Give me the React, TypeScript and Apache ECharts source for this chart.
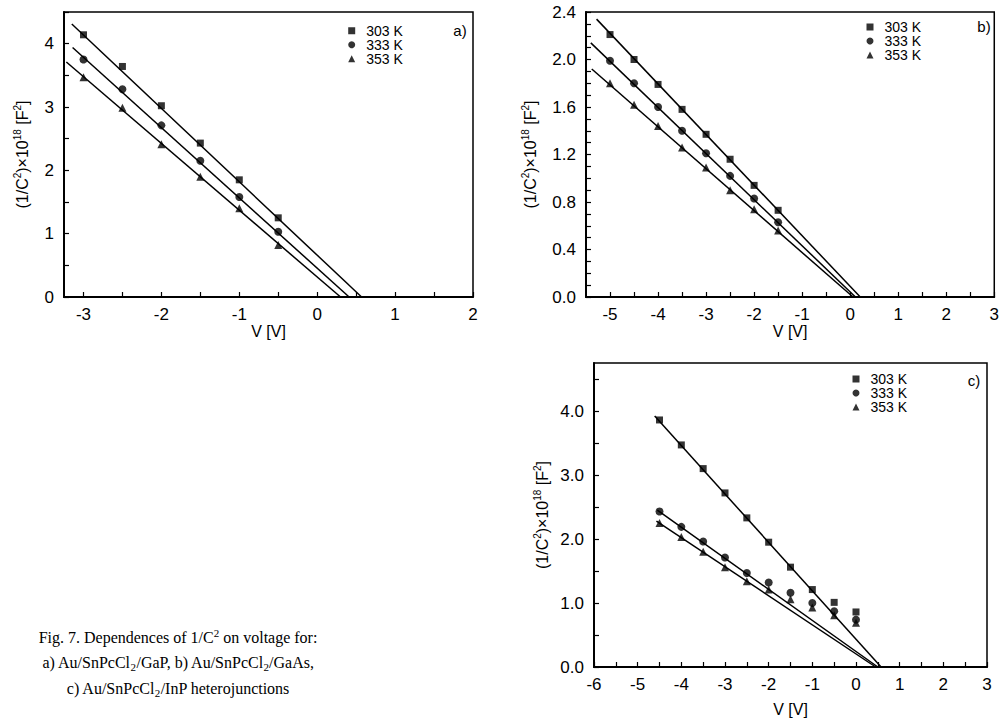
import React, { useEffect, useRef } from "react";
import * as echarts from "echarts";

const FONT = '"Liberation Sans", Arial, Helvetica, sans-serif';
const SERIF = '"Liberation Serif", "Times New Roman", serif';

const temps = ["303 K", "333 K", "353 K"];
const symbols = ["rect", "circle", "triangle"];
const symbolSizes = [7, 8, 8];

// ---- Panel a) Au/SnPcCl2/GaP
const aV = [-3, -2.5, -2, -1.5, -1, -0.5];
const a303 = [4.14, 3.64, 3.02, 2.43, 1.85, 1.25];
const a333 = [3.75, 3.28, 2.71, 2.15, 1.58, 1.03];
const a353 = [3.47, 2.99, 2.41, 1.9, 1.4, 0.82];
const aFit303 = [[-3.15, 4.31], [0.57, 0]];
const aFit333 = [[-3.14, 3.94], [0.41, 0]];
const aFit353 = [[-3.22, 3.71], [0.3, 0]];
const aXLabels = [-3, -2, -1, 0, 1, 2];
const aXTicks = [-3, -2.5, -2, -1.5, -1, -0.5, 0, 0.5, 1, 1.5, 2];
const aYLabels = [0, 1, 2, 3, 4];
const aYTicks = [0, 0.5, 1, 1.5, 2, 2.5, 3, 3.5, 4, 4.5];

// ---- Panel b) Au/SnPcCl2/GaAs
const bV = [-5, -4.5, -4, -3.5, -3, -2.5, -2, -1.5];
const b303 = [2.21, 2.0, 1.79, 1.58, 1.37, 1.16, 0.94, 0.73];
const b333 = [1.99, 1.8, 1.6, 1.4, 1.21, 1.02, 0.83, 0.63];
const b353 = [1.8, 1.62, 1.44, 1.26, 1.09, 0.9, 0.74, 0.56];
const bFit303 = [[-5.28, 2.34], [0.21, 0]];
const bFit333 = [[-5.4, 2.14], [0.11, 0]];
const bFit353 = [[-5.38, 1.92], [0.06, 0]];
const bXLabels = [-5, -4, -3, -2, -1, 0, 1, 2, 3];
const bXTicks = [-5, -4.5, -4, -3.5, -3, -2.5, -2, -1.5, -1, -0.5, 0, 0.5, 1, 1.5, 2, 2.5, 3];
const bYLabels = [0, 0.4, 0.8, 1.2, 1.6, 2.0, 2.4];
const bYTicks = [0, 0.1, 0.2, 0.3, 0.4, 0.5, 0.6, 0.7, 0.8, 0.9, 1.0, 1.1, 1.2, 1.3, 1.4, 1.5, 1.6, 1.7, 1.8, 1.9, 2.0, 2.1, 2.2, 2.3, 2.4];

// ---- Panel c) Au/SnPcCl2/InP
const cV = [-4.5, -4, -3.5, -3, -2.5, -2, -1.5, -1, -0.5, 0];
const c303 = [3.86, 3.47, 3.1, 2.72, 2.33, 1.95, 1.56, 1.21, 1.01, 0.86];
const c333 = [2.43, 2.19, 1.96, 1.71, 1.47, 1.32, 1.16, 1.0, 0.87, 0.74];
const c353 = [2.25, 2.03, 1.8, 1.56, 1.34, 1.21, 1.06, 0.93, 0.81, 0.69];
const cFit303 = [[-4.61, 3.92], [0.575, 0]];
const cFit333 = [[-4.55, 2.45], [0.5, 0]];
const cFit353 = [[-4.57, 2.28], [0.45, 0]];
const cXLabels = [-6, -5, -4, -3, -2, -1, 0, 1, 2, 3];
const cXTicks = [-6, -5.5, -5, -4.5, -4, -3.5, -3, -2.5, -2, -1.5, -1, -0.5, 0, 0.5, 1, 1.5, 2, 2.5, 3];
const cYLabels = [0, 1, 2, 3, 4];
const cYTicks = [0, 0.5, 1, 1.5, 2, 2.5, 3, 3.5, 4, 4.5];

const panelLetters = ["a)", "b)", "c)"];

const captionLines = [
  "Fig. 7. Dependences of 1/C{sup|2} on voltage for:",
  "a) Au/SnPcCl{sub|2}/GaP, b) Au/SnPcCl{sub|2}/GaAs,",
  "c) Au/SnPcCl{sub|2}/InP heterojunctions",
];

const Y_NAME = "(1/C{s|2})×10{s|18} [F{s|2}]";

function xAxis(gridIndex: number, min: number, max: number, labels: number[], ticks: number[], nameGap: number, fmt: (v: number) => string) {
  return {
    type: "value",
    gridIndex,
    min,
    max,
    name: "V [V]",
    nameLocation: "middle",
    nameGap,
    nameTextStyle: { fontSize: 16, color: "#000", fontFamily: FONT },
    axisLine: { show: true, onZero: false, lineStyle: { color: "#000", width: 2 } },
    axisTick: { show: true, inside: true, length: 5, customValues: ticks, lineStyle: { color: "#000", width: 1.2 } },
    axisLabel: { show: true, customValues: labels, fontSize: 17, color: "#000", fontFamily: FONT, margin: 9, formatter: fmt },
    splitLine: { show: false },
  };
}

function yAxis(gridIndex: number, min: number, max: number, labels: number[], ticks: number[], nameGap: number, fmt: (v: number) => string) {
  return {
    type: "value",
    gridIndex,
    min,
    max,
    name: Y_NAME,
    nameLocation: "middle",
    nameGap,
    nameRotate: 90,
    nameTextStyle: {
      fontSize: 16,
      color: "#000",
      fontFamily: FONT,
      lineHeight: 20,
      rich: {
        s: { fontSize: 10, color: "#000", fontFamily: FONT, verticalAlign: "top", lineHeight: 10 },
      },
    },
    axisLine: { show: true, onZero: false, lineStyle: { color: "#000", width: 2 } },
    axisTick: { show: true, inside: true, length: 5, customValues: ticks, lineStyle: { color: "#000", width: 1.2 } },
    axisLabel: { show: true, customValues: labels, fontSize: 17, color: "#000", fontFamily: FONT, margin: 10, formatter: fmt },
    splitLine: { show: false },
  };
}

const intFmt = (v: number) => String(Math.round(v));
const oneDec = (v: number) => v.toFixed(1);

export default function App() {
  const ref = useRef<HTMLDivElement>(null);
  useEffect(() => {
    if (!ref.current) return;
    const chart = echarts.init(ref.current, null, { renderer: "svg" });

    const panels = [
      { V: aV, ys: [a303, a333, a353], fits: [aFit303, aFit333, aFit353] },
      { V: bV, ys: [b303, b333, b353], fits: [bFit303, bFit333, bFit353] },
      { V: cV, ys: [c303, c333, c353], fits: [cFit303, cFit333, cFit353] },
    ];

    const series: any[] = [];
    panels.forEach((p, i) => {
      p.ys.forEach((vals, j) => {
        series.push({
          type: "line",
          name: `${temps[j]} fit ${panelLetters[i]}`,
          xAxisIndex: i,
          yAxisIndex: i,
          data: p.fits[j],
          symbol: "none",
          silent: true,
          lineStyle: { color: "#000", width: 1.5 },
          z: 2,
        });
        series.push({
          type: "scatter",
          name: temps[j],
          xAxisIndex: i,
          yAxisIndex: i,
          symbol: symbols[j],
          symbolSize: symbolSizes[j],
          itemStyle: { color: "#000" },
          data: p.V.map((v, k) => [v, vals[k]]),
          z: 3,
        });
      });
    });

    const legendBase = {
      data: temps,
      orient: "vertical",
      itemWidth: 7,
      itemHeight: 7,
      itemGap: 0,
      padding: 0,
      selectedMode: false,
    };

    const option: any = {
      animation: false,
      backgroundColor: "#fff",
      grid: [
        { left: 64, top: 12, width: 409, height: 285, show: true, borderColor: "#000", borderWidth: 1.5, backgroundColor: "transparent" },
        { left: 586, top: 12, width: 411, height: 285, show: true, borderColor: "#000", borderWidth: 1.5, backgroundColor: "transparent" },
        { left: 594, top: 363, width: 393, height: 304, show: true, borderColor: "#000", borderWidth: 1.5, backgroundColor: "transparent" },
      ],
      xAxis: [
        xAxis(0, -3.25, 2, aXLabels, aXTicks, 21, intFmt),
        xAxis(1, -5.5, 3, bXLabels, bXTicks, 21, intFmt),
        xAxis(2, -6, 3, cXLabels, cXTicks, 34, intFmt),
      ],
      yAxis: [
        yAxis(0, 0, 4.5, aYLabels, aYTicks, 32, intFmt),
        yAxis(1, 0, 2.4, bYLabels, bYTicks, 46, oneDec),
        yAxis(2, 0, 4.75, cYLabels, cYTicks, 42, oneDec),
      ],
      legend: [
        { ...legendBase, left: 348.2, top: 23.75, textStyle: { fontSize: 14, lineHeight: 12.5, color: "#000", fontFamily: FONT, padding: [0, 0, 0, 6] } },
        { ...legendBase, left: 866.5, top: 20, textStyle: { fontSize: 14, lineHeight: 13.3, color: "#000", fontFamily: FONT, padding: [0, 0, 0, 6] } },
        { ...legendBase, left: 852.5, top: 372, textStyle: { fontSize: 14, lineHeight: 12.9, color: "#000", fontFamily: FONT, padding: [0, 0, 0, 6] } },
      ],
      graphic: [
        { type: "text", x: 460, y: 30, style: { text: panelLetters[0], fontSize: 15, fontFamily: FONT, fill: "#000", align: "center", verticalAlign: "middle" } },
        { type: "text", x: 984, y: 26, style: { text: panelLetters[1], fontSize: 15, fontFamily: FONT, fill: "#000", align: "center", verticalAlign: "middle" } },
        { type: "text", x: 974, y: 380, style: { text: panelLetters[2], fontSize: 15, fontFamily: FONT, fill: "#000", align: "center", verticalAlign: "middle" } },
        ...captionLines.map((t, i) => ({
          type: "text",
          x: 178,
          y: 637 + i * 25.5,
          style: {
            text: t,
            fontSize: 16,
            fontFamily: SERIF,
            fill: "#000",
            align: "center",
            verticalAlign: "middle",
            lineHeight: 20,
            rich: {
              sup: { fontSize: 11, fontFamily: SERIF, fill: "#000", verticalAlign: "top", lineHeight: 11 },
              sub: { fontSize: 11, fontFamily: SERIF, fill: "#000", verticalAlign: "bottom", lineHeight: 11 },
            },
          },
        })),
      ],
      series,
    };

    chart.setOption(option);
    return () => chart.dispose();
  }, []);

  return <div ref={ref} style={{ position: "absolute", left: 0, top: 0, width: 1002, height: 724, background: "#fff" }} />;
}
